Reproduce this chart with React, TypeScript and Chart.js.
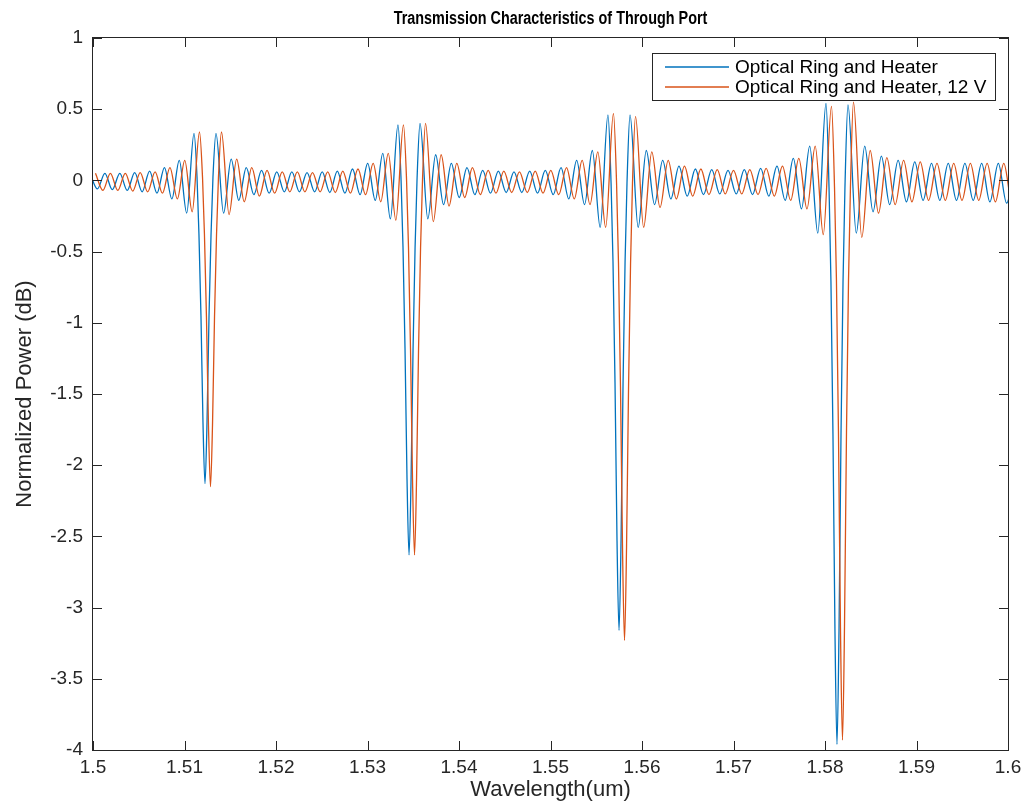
import React, { useEffect, useRef } from 'react';
import { Chart, registerables } from 'chart.js';

Chart.register(...registerables);

// ---------- text ----------
const TITLE = 'Transmission Characteristics of Through Port';
const X_LABEL = 'Wavelength(um)';
const Y_LABEL = 'Normalized Power (dB)';
const SERIES_NAMES = ['Optical Ring and Heater', 'Optical Ring and Heater, 12 V'];

// ---------- ticks ----------
const X_TICK_VALUES = [1.5, 1.51, 1.52, 1.53, 1.54, 1.55, 1.56, 1.57, 1.58, 1.59, 1.6];
const X_TICK_LABELS = ['1.5', '1.51', '1.52', '1.53', '1.54', '1.55', '1.56', '1.57', '1.58', '1.59', '1.6'];
const Y_TICK_VALUES = [1, 0.5, 0, -0.5, -1, -1.5, -2, -2.5, -3, -3.5, -4];
const Y_TICK_LABELS = ['1', '0.5', '0', '-0.5', '-1', '-1.5', '-2', '-2.5', '-3', '-3.5', '-4'];

// ---------- data ----------
// wavelength (um) of the ripple extrema and resonance-dip samples of the unheated trace
const wavelengthUm = [
  // before resonance 1
  1.49967, 1.50048, 1.5013, 1.50211, 1.50293, 1.50374, 1.50456, 1.50537, 1.50619, 1.50699,
  1.50781, 1.50862, 1.50943, 1.51024, 1.51104,
  // resonance 1
  1.51137, 1.51158, 1.5118, 1.51202, 1.51224, 1.51246, 1.51268, 1.5129, 1.51311,
  // between 1 and 2
  1.51344, 1.51427, 1.5151, 1.51593, 1.51675, 1.51758, 1.51842, 1.51925, 1.52008, 1.52091,
  1.52173, 1.52256, 1.52339, 1.52422, 1.52505, 1.52588, 1.5267, 1.52753, 1.52836, 1.52919,
  1.53002, 1.53085, 1.53167, 1.5325, 1.53333,
  // resonance 2
  1.53367, 1.53388, 1.5341, 1.53432, 1.53454, 1.53476, 1.53498, 1.5352, 1.53541,
  // between 2 and 3
  1.53574, 1.53659, 1.53745, 1.53831, 1.53916, 1.54002, 1.54087, 1.54173, 1.54259, 1.54344,
  1.5443, 1.54516, 1.54601, 1.54686, 1.54773, 1.54858, 1.54943, 1.5503, 1.55115, 1.552,
  1.55286, 1.55372, 1.55457, 1.55543, 1.55628,
  // resonance 3
  1.55662, 1.55683, 1.55705, 1.55727, 1.55749, 1.55771, 1.55793, 1.55815, 1.55836,
  // between 3 and 4
  1.55869, 1.55958, 1.56047, 1.56137, 1.56226, 1.56315, 1.56404, 1.56494, 1.56583, 1.56672,
  1.56762, 1.5685, 1.5694, 1.5703, 1.57118, 1.57208, 1.57297, 1.57386, 1.57475, 1.57565,
  1.57654, 1.57743, 1.57833, 1.57921, 1.58011,
  // resonance 4
  1.58044, 1.58065, 1.58087, 1.58109, 1.58131, 1.58153, 1.58175, 1.58197, 1.58218,
  // after resonance 4
  1.58251, 1.58342, 1.58434, 1.58525, 1.58616, 1.58707, 1.58799, 1.5889, 1.58981, 1.59072,
  1.59164, 1.59255, 1.59347, 1.59437, 1.59529, 1.5962, 1.59712, 1.59802, 1.59894, 1.59985,
  1.60077,
];

// measured red-shift of the whole spectrum with 12 V on the heater (um)
const HEATER_SHIFT_UM = 0.0006;

// Normalized power (dB), unheated
const powerDb = [
  0.05, -0.06, 0.05, -0.065, 0.05, -0.07, 0.055, -0.08, 0.065, -0.09,
  0.09, -0.13, 0.14, -0.23, 0.33,
  0.02, -0.38, -0.95, -1.7, -2.13, -1.7, -0.95, -0.38, 0.02,
  0.33, -0.23, 0.15, -0.14, 0.09, -0.1, 0.07, -0.09, 0.06, -0.08,
  0.06, -0.08, 0.055, -0.08, 0.06, -0.085, 0.065, -0.09, 0.08, -0.1,
  0.12, -0.14, 0.19, -0.27, 0.39,
  0.0, -0.47, -1.18, -2.1, -2.63, -2.1, -1.18, -0.47, 0.0,
  0.4, -0.27, 0.18, -0.17, 0.12, -0.12, 0.09, -0.1, 0.07, -0.09,
  0.065, -0.085, 0.06, -0.085, 0.065, -0.09, 0.07, -0.1, 0.09, -0.13,
  0.14, -0.17, 0.21, -0.33, 0.46,
  -0.02, -0.57, -1.42, -2.53, -3.16, -2.53, -1.42, -0.57, -0.02,
  0.46, -0.33, 0.21, -0.17, 0.14, -0.13, 0.1, -0.11, 0.08, -0.1,
  0.075, -0.095, 0.07, -0.095, 0.075, -0.1, 0.085, -0.11, 0.1, -0.14,
  0.155, -0.2, 0.24, -0.37, 0.54,
  -0.05, -0.71, -1.78, -3.17, -3.96, -3.17, -1.78, -0.71, -0.05,
  0.53, -0.37, 0.24, -0.22, 0.17, -0.17, 0.14, -0.15, 0.13, -0.14,
  0.12, -0.14, 0.12, -0.14, 0.12, -0.14, 0.12, -0.15, 0.12, -0.16,
  0.12,
];

// Normalized power (dB), heater at 12 V
const powerDb12V = [
  0.05, -0.07, 0.05, -0.07, 0.05, -0.075, 0.055, -0.08, 0.06, -0.09,
  0.09, -0.13, 0.14, -0.22, 0.34,
  0.02, -0.38, -0.96, -1.72, -2.15, -1.72, -0.96, -0.38, 0.02,
  0.34, -0.24, 0.15, -0.15, 0.09, -0.11, 0.07, -0.09, 0.06, -0.08,
  0.06, -0.08, 0.055, -0.08, 0.06, -0.085, 0.065, -0.09, 0.08, -0.1,
  0.12, -0.15, 0.19, -0.28, 0.39,
  0.0, -0.47, -1.18, -2.1, -2.63, -2.1, -1.18, -0.47, 0.0,
  0.4, -0.29, 0.18, -0.18, 0.12, -0.12, 0.09, -0.1, 0.07, -0.09,
  0.065, -0.085, 0.06, -0.085, 0.065, -0.09, 0.07, -0.1, 0.09, -0.13,
  0.14, -0.17, 0.2, -0.33, 0.47,
  -0.02, -0.58, -1.45, -2.58, -3.23, -2.58, -1.45, -0.58, -0.02,
  0.45, -0.33, 0.2, -0.19, 0.14, -0.13, 0.1, -0.11, 0.08, -0.1,
  0.075, -0.095, 0.07, -0.095, 0.075, -0.1, 0.085, -0.11, 0.1, -0.14,
  0.155, -0.2, 0.24, -0.38, 0.52,
  -0.05, -0.7, -1.76, -3.14, -3.93, -3.14, -1.76, -0.7, -0.05,
  0.55, -0.4, 0.21, -0.23, 0.16, -0.17, 0.14, -0.15, 0.13, -0.14,
  0.12, -0.14, 0.12, -0.14, 0.12, -0.14, 0.12, -0.15, 0.12, -0.16,
  0.12,
];

// ---------- style ----------
const BLUE = 'rgb(0,114,189)';
const ORANGE = 'rgb(217,83,25)';
const AXIS_COLOR = '#262626';
const FONT_FAMILY = '"Liberation Sans", Arial, Helvetica, sans-serif';
const TICK_LEN = 9;

const frameAndLegend = {
  id: 'frameAndLegend',
  afterDatasetsDraw(chart: any) {
    const { ctx, chartArea: a, scales } = chart;
    const xs = scales.x;
    const ys = scales.y;
    ctx.save();
    ctx.strokeStyle = AXIS_COLOR;
    ctx.lineWidth = 1;
    ctx.beginPath();
    X_TICK_VALUES.forEach((v) => {
      const px = Math.round(xs.getPixelForValue(v)) + 0.5;
      ctx.moveTo(px, a.bottom);
      ctx.lineTo(px, a.bottom - TICK_LEN);
      ctx.moveTo(px, a.top);
      ctx.lineTo(px, a.top + TICK_LEN);
    });
    Y_TICK_VALUES.forEach((v) => {
      const py = Math.round(ys.getPixelForValue(v)) + 0.5;
      ctx.moveTo(a.left, py);
      ctx.lineTo(a.left + TICK_LEN, py);
      ctx.moveTo(a.right, py);
      ctx.lineTo(a.right - TICK_LEN, py);
    });
    ctx.stroke();
    ctx.strokeRect(
      Math.round(a.left) - 0.5,
      Math.round(a.top) - 0.5,
      Math.round(a.right - a.left) + 1,
      Math.round(a.bottom - a.top) + 1
    );

    // title (narrow bold face, as in the reference)
    ctx.save();
    ctx.fillStyle = '#000';
    ctx.font = `bold 18px ${FONT_FAMILY}`;
    ctx.textAlign = 'center';
    ctx.textBaseline = 'alphabetic';
    ctx.translate((a.left + a.right) / 2, a.top - 14);
    ctx.scale(0.8, 1);
    ctx.fillText(TITLE, 0, 0);
    ctx.restore();

    // legend
    const lx = 652, ly = 53, lw = 343, lh = 47;
    ctx.fillStyle = '#fff';
    ctx.fillRect(lx, ly, lw, lh);
    ctx.strokeStyle = AXIS_COLOR;
    ctx.lineWidth = 1;
    ctx.strokeRect(lx + 0.5, ly + 0.5, lw, lh);
    const colors = [BLUE, ORANGE];
    ctx.font = `19px ${FONT_FAMILY}`;
    ctx.textAlign = 'left';
    ctx.textBaseline = 'middle';
    SERIES_NAMES.forEach((name, i) => {
      const y = ly + 14 + i * 20;
      ctx.strokeStyle = colors[i];
      ctx.lineWidth = 1.3;
      ctx.beginPath();
      ctx.moveTo(lx + 13, y);
      ctx.lineTo(lx + 77, y);
      ctx.stroke();
      ctx.fillStyle = '#000';
      ctx.fillText(name, lx + 83, y + 1);
    });
    ctx.restore();
  },
};

export default function App() {
  const ref = useRef<HTMLCanvasElement>(null);

  useEffect(() => {
    const canvas = ref.current;
    if (!canvas) return;
    const tickFont = { family: FONT_FAMILY, size: 19 };
    const chart = new Chart(canvas, {
      type: 'line',
      data: {
        datasets: [
          {
            label: SERIES_NAMES[0],
            data: wavelengthUm.map((x, i) => ({ x, y: powerDb[i] })),
            borderColor: BLUE,
            backgroundColor: BLUE,
            borderWidth: 1.3,
            pointRadius: 0,
            cubicInterpolationMode: 'monotone',
            clip: 0,
            order: 1,
          },
          {
            label: SERIES_NAMES[1],
            data: wavelengthUm.map((x, i) => ({ x: x + HEATER_SHIFT_UM, y: powerDb12V[i] })),
            borderColor: ORANGE,
            backgroundColor: ORANGE,
            borderWidth: 1.3,
            pointRadius: 0,
            cubicInterpolationMode: 'monotone',
            clip: 0,
            order: 0,
          },
        ],
      },
      options: {
        responsive: false,
        animation: false,
        devicePixelRatio: 1,
        events: [],
        layout: { padding: { left: 0, top: 38, right: 23, bottom: 0 } },
        plugins: {
          legend: { display: false },
          title: { display: false },
          tooltip: { enabled: false },
        },
        scales: {
          x: {
            type: 'linear',
            min: 1.5,
            max: 1.6,
            grid: { display: false, drawTicks: false },
            border: { display: false },
            afterBuildTicks: (s: any) => {
              s.ticks = X_TICK_VALUES.map((value) => ({ value }));
            },
            afterFit: (s: any) => {
              s.height = 55;
              s.paddingLeft = 0;
              s.paddingRight = 0;
            },
            ticks: {
              autoSkip: false,
              maxRotation: 0,
              minRotation: 0,
              padding: 6,
              color: AXIS_COLOR,
              font: tickFont,
              callback: (_v: any, i: number) => X_TICK_LABELS[i],
            },
            title: {
              display: true,
              text: X_LABEL,
              color: AXIS_COLOR,
              font: { family: FONT_FAMILY, size: 22 },
              padding: { top: 0, bottom: 2 },
            },
          },
          y: {
            type: 'linear',
            min: -4,
            max: 1,
            grid: { display: false, drawTicks: false },
            border: { display: false },
            afterBuildTicks: (s: any) => {
              s.ticks = Y_TICK_VALUES.map((value) => ({ value }));
            },
            afterFit: (s: any) => {
              s.width = 93;
              s.paddingTop = 0;
              s.paddingBottom = 0;
            },
            ticks: {
              autoSkip: false,
              padding: 10,
              color: AXIS_COLOR,
              font: tickFont,
              callback: (_v: any, i: number) => Y_TICK_LABELS[i],
            },
            title: {
              display: true,
              text: Y_LABEL,
              color: AXIS_COLOR,
              font: { family: FONT_FAMILY, size: 22 },
              padding: { top: 12, bottom: 0 },
            },
          },
        },
      } as any,
      plugins: [frameAndLegend],
    });
    return () => chart.destroy();
  }, []);

  return (
    <div style={{ position: 'fixed', left: 0, top: 0, width: 1031, height: 805, background: '#fff' }}>
      <canvas ref={ref} width={1031} height={805} style={{ display: 'block', width: 1031, height: 805 }} />
    </div>
  );
}
